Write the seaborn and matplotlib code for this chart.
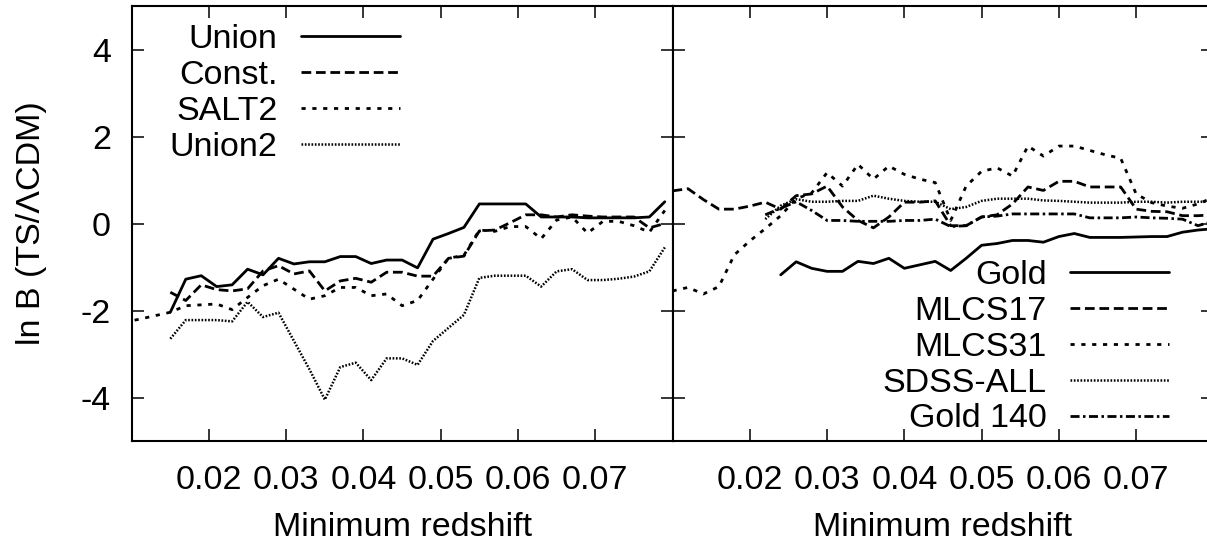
import matplotlib
matplotlib.use('Agg')
import matplotlib.pyplot as plt
import seaborn as sns

# x grids (minimum redshift)
z_left = [0.015, 0.017, 0.019, 0.021, 0.023, 0.025, 0.027, 0.029, 0.031, 0.033, 0.035,
          0.037, 0.039, 0.041, 0.043, 0.045, 0.047, 0.049, 0.051, 0.053, 0.055, 0.057,
          0.059, 0.061, 0.063, 0.065, 0.067, 0.069, 0.071, 0.073, 0.075, 0.077, 0.079]
z_salt2 = [0.009, 0.011, 0.013] + z_left
z_right = [0.010, 0.012, 0.014, 0.016, 0.018, 0.020, 0.022, 0.024, 0.026, 0.028, 0.030,
           0.032, 0.034, 0.036, 0.038, 0.040, 0.042, 0.044, 0.046, 0.048, 0.050, 0.052,
           0.054, 0.056, 0.058, 0.060, 0.062, 0.064, 0.066, 0.068, 0.070, 0.072, 0.074,
           0.076, 0.078, 0.080]

# left panel
union = [-2.04, -1.28, -1.20, -1.45, -1.41, -1.05, -1.18, -0.80, -0.93, -0.88, -0.88,
         -0.76, -0.76, -0.92, -0.84, -0.84, -1.02, -0.36, -0.23, -0.09, 0.45, 0.45,
         0.45, 0.45, 0.15, 0.15, 0.15, 0.13, 0.13, 0.13, 0.13, 0.15, 0.50]
const = [-1.58, -1.77, -1.41, -1.52, -1.55, -1.50, -1.09, -0.97, -1.16, -1.09, -1.55,
         -1.32, -1.26, -1.35, -1.12, -1.12, -1.21, -1.21, -0.80, -0.75, -0.17, -0.15,
         0.02, 0.20, 0.20, 0.15, 0.20, 0.17, 0.15, 0.15, 0.15, -0.10, 0.00]
salt2 = [-2.27, -2.20, -2.12,
         -2.04, -1.89, -1.87, -1.85, -1.98, -1.70, -1.43, -1.28, -1.51, -1.74, -1.66,
         -1.47, -1.47, -1.66, -1.62, -1.89, -1.77, -1.28, -0.80, -0.73, -0.15, -0.18,
         -0.07, -0.07, -0.35, 0.08, 0.15, -0.22, 0.05, 0.05, -0.05, -0.20, 0.30]
union2 = [-2.65, -2.22, -2.22, -2.22, -2.25, -1.80, -2.15, -2.05, -2.70, -3.35, -4.05,
          -3.30, -3.20, -3.60, -3.10, -3.10, -3.25, -2.70, -2.40, -2.10, -1.25, -1.20,
          -1.20, -1.20, -1.45, -1.10, -1.05, -1.30, -1.30, -1.27, -1.22, -1.10, -0.55]

# right panel
mlcs17 = [0.75, 0.80, 0.55, 0.33, 0.33, 0.40, 0.49, 0.33, 0.64, 0.68, 0.86, 0.38,
          0.07, -0.10, 0.15, 0.49, 0.49, 0.52, -0.05, -0.05, 0.15, 0.20, 0.45, 0.84,
          0.76, 0.97, 0.97, 0.84, 0.84, 0.84, 0.33, 0.28, 0.27, 0.18, 0.18, 0.20]
mlcs31 = [-1.55, -1.47, -1.62, -1.45, -0.72, -0.40, -0.12, 0.18, 0.57, 0.70, 1.17, 0.86,
          1.36, 1.02, 1.32, 1.13, 1.02, 0.94, 0.07, 0.86, 1.20, 1.28, 1.09, 1.78,
          1.55, 1.78, 1.78, 1.68, 1.58, 1.50, 0.68, 0.48, 0.40, 0.35, 0.45, 0.60]
sdss = [0.10, 0.41, 0.56, 0.50, 0.50, 0.52, 0.52, 0.64, 0.57, 0.52, 0.50, 0.50, 0.33,
        0.38, 0.52, 0.57, 0.57, 0.57, 0.53, 0.52, 0.50, 0.48, 0.48, 0.48, 0.50, 0.50,
        0.48, 0.50, 0.50, 0.50]
gold140 = [0.20, 0.35, 0.50, 0.30, 0.07, 0.07, 0.05, 0.05, 0.05, 0.07, 0.07, 0.10, -0.07,
           -0.05, 0.15, 0.17, 0.22, 0.22, 0.22, 0.22, 0.22, 0.13, 0.13, 0.13, 0.15, 0.13,
           0.12, 0.10, -0.05, 0.05]
gold = [-1.18, -0.88, -1.03, -1.10, -1.10, -0.87, -0.92, -0.80, -1.03, -0.95, -0.87,
        -1.08, -0.80, -0.50, -0.46, -0.39, -0.39, -0.43, -0.30, -0.23, -0.32, -0.32,
        -0.32, -0.31, -0.30, -0.30, -0.20, -0.15, -0.12]

xticks = [0.02, 0.03, 0.04, 0.05, 0.06, 0.07]
yticks = [-4, -2, 0, 2, 4]

# gnuplot-like dash patterns (points)
SOLID = '-'
DASH = (0, (7.0, 3.4))
SHORT = (0, (3.0, 4.8))
DOT = (0, (1.2, 1.2))
DASHDOT = (0, (6.5, 2.5, 1.8, 2.5))

sns.set_style('ticks')
plt.rcParams['font.family'] = ['Liberation Sans', 'DejaVu Sans']
plt.rcParams['lines.scale_dashes'] = False
plt.rcParams['axes.unicode_minus'] = False
for key in ['text.color', 'axes.labelcolor', 'xtick.color', 'ytick.color', 'axes.edgecolor']:
    plt.rcParams[key] = 'black'

fig = plt.figure(figsize=(12.07, 5.46), dpi=100)
ax1 = fig.add_axes([0.1091, 0.1923, 0.4481, 0.7967])
ax2 = fig.add_axes([0.5572, 0.1923, 0.4481, 0.7967])

left_series = [('Union', z_left, union, SOLID, 2.0),
               ('Const.', z_left, const, DASH, 2.0),
               ('SALT2', z_salt2, salt2, SHORT, 2.0),
               ('Union2', z_left, union2, DOT, 1.8)]
right_series = [('Gold', z_right[7:], gold, SOLID, 2.0),
                ('MLCS17', z_right, mlcs17, DASH, 2.0),
                ('MLCS31', z_right, mlcs31, SHORT, 2.0),
                ('SDSS-ALL', z_right[6:], sdss, DOT, 1.8),
                ('Gold 140', z_right[6:], gold140, DASHDOT, 2.0)]

for ax, series in [(ax1, left_series), (ax2, right_series)]:
    for name, z, v, ls, lw in series:
        sns.lineplot(x=z, y=v, ax=ax, color='black', linewidth=lw, linestyle=ls,
                     label=name, sort=False, estimator=None)
    ax.set_xlim(0.01, 0.08)
    ax.set_ylim(-5, 5)
    ax.set_xticks(xticks)
    ax.set_xticklabels(['%.2f' % t for t in xticks])
    ax.set_yticks(yticks)
    ax.tick_params(direction='in', length=8.5, width=1.1, top=True, right=True,
                   labelsize=24.5)
    ax.tick_params(axis='x', pad=17.5)
    ax.tick_params(axis='y', pad=15)
    for sp in ax.spines.values():
        sp.set_visible(True)
        sp.set_linewidth(1.5)
    ax.set_xlabel('Minimum redshift', fontsize=24.5)
    ax.xaxis.set_label_coords(0.5, -0.163)

ax1.set_ylabel('ln B (TS/\u039bCDM)', fontsize=24.5)
ax1.yaxis.set_label_coords(-0.157, 0.5)
ax2.tick_params(axis='y', labelleft=False)

leg_kw = dict(frameon=False, markerfirst=False, handlelength=2.9, handletextpad=0.7,
              labelspacing=0.145, borderpad=0, borderaxespad=0, fontsize=24.5)
leg1 = ax1.legend(loc='upper right', bbox_to_anchor=(0.496, 0.958), **leg_kw)
leg2 = ax2.legend(loc='lower right', bbox_to_anchor=(0.918, 0.015), **leg_kw)
for leg in (leg1, leg2):
    for col in leg._legend_handle_box.get_children():
        col.align = 'right'

fig.savefig('out.png', dpi=100)
